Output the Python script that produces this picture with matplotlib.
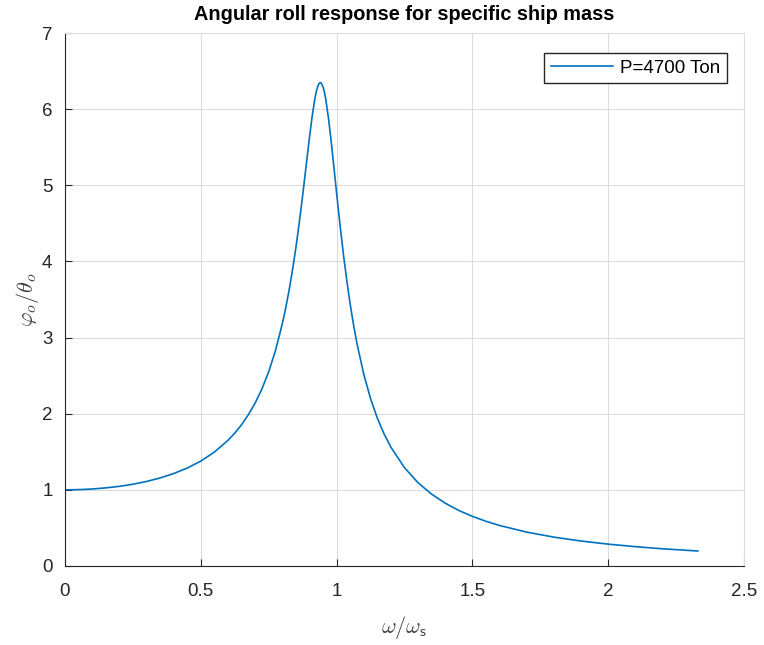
import matplotlib.pyplot as plt

# frequency ratio and roll amplitude ratio
ratio = [0.0, 0.05, 0.1, 0.15, 0.2, 0.25, 0.3, 0.35, 0.4, 0.45, 0.5, 0.55, 0.6,
         0.625, 0.65, 0.675, 0.7, 0.725, 0.75, 0.775, 0.8, 0.8125, 0.825,
         0.8375, 0.85, 0.8625, 0.875, 0.8875, 0.9, 0.91, 0.92, 0.925, 0.93,
         0.935, 0.94, 0.945, 0.95, 0.955, 0.96, 0.97, 0.98, 0.99, 1.0, 1.0125,
         1.025, 1.0375, 1.05, 1.0625, 1.075, 1.1, 1.125, 1.15, 1.175, 1.2, 1.25,
         1.3, 1.35, 1.4, 1.45, 1.5, 1.55, 1.6, 1.7, 1.8, 1.9, 2.0, 2.1, 2.2, 2.33]
response = [1.0, 1.003, 1.011, 1.026, 1.046, 1.074, 1.110, 1.156, 1.214, 1.286,
            1.378, 1.496, 1.650, 1.745, 1.855, 1.986, 2.140, 2.325, 2.551, 2.830,
            3.179, 3.386, 3.620, 3.883, 4.178, 4.507, 4.866, 5.246, 5.625, 5.906,
            6.137, 6.226, 6.293, 6.334, 6.349, 6.335, 6.293, 6.225, 6.131, 5.884,
            5.578, 5.241, 4.898, 4.482, 4.096, 3.749, 3.439, 3.165, 2.922, 2.518,
            2.199, 1.942, 1.733, 1.560, 1.291, 1.093, 0.943, 0.825, 0.729, 0.652,
            0.587, 0.532, 0.445, 0.379, 0.328, 0.287, 0.254, 0.226, 0.197]
series_label = "P=4700 Ton"

plt.rcParams['font.family'] = ['Liberation Sans', 'DejaVu Sans']
plt.rcParams['mathtext.fontset'] = 'cm'

fig = plt.figure(figsize=(7.64, 6.45), dpi=100)
ax = fig.add_axes([65/764, 1-566/645, (744-65)/764, (566-33)/645])

ax.plot(ratio, response, color='#0072BD', lw=1.2, label=series_label)

ax.set_xlim(0, 2.5)
ax.set_ylim(0, 7)
ax.set_xticks([0, 0.5, 1, 1.5, 2, 2.5])
ax.set_xticklabels(['0', '0.5', '1', '1.5', '2', '2.5'])
ax.set_yticks(range(8))
ax.grid(True, color='#dcdcdc', lw=0.8)
ax.set_axisbelow(True)
ax.tick_params(direction='in', length=5, colors='#262626', labelsize=13.5,
               top=False, right=False)
ax.tick_params(axis='x', pad=12)
ax.tick_params(axis='y', pad=9)
for s in ['top', 'right']:
    ax.spines[s].set_color('#dcdcdc')
for s in ['left', 'bottom']:
    ax.spines[s].set_color('#262626')

ax.set_title('Angular roll response for specific ship mass', fontsize=14.3,
             fontweight='bold', pad=9)
ax.set_xlabel(r'$\omega/\omega_{\mathsf{s}}$', fontsize=16, color='#404040',
              labelpad=10)
ax.set_ylabel(r'$\varphi_o/\theta_o$', fontsize=16, color='#404040',
              labelpad=1)

leg = ax.legend(loc='upper right', bbox_to_anchor=(1 - 17/679, 1 - 20/533),
                fontsize=13.5, fancybox=False, framealpha=1,
                edgecolor='#262626', handlelength=3.3, handletextpad=0.4,
                borderaxespad=0, borderpad=0.35)
leg.get_frame().set_linewidth(1.0)

fig.savefig('out.png', dpi=100)
